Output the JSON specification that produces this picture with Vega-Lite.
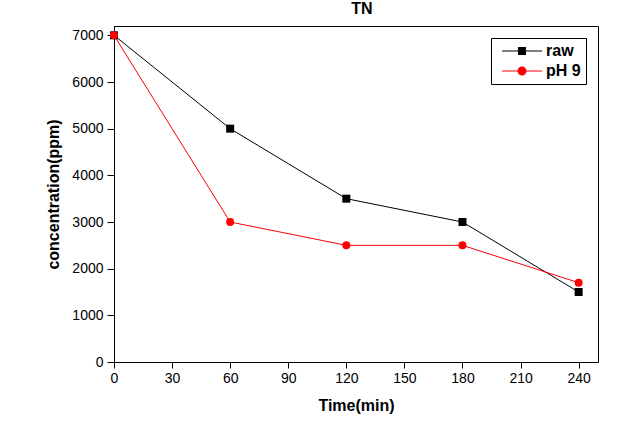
{
  "$schema": "https://vega.github.io/schema/vega-lite/v6.json",
  "width": 484,
  "height": 336,
  "autosize": {"type": "none"},
  "padding": {"left": 114, "top": 26, "right": 34, "bottom": 66},
  "background": "white",
  "title": {"text": "TN", "fontSize": 16, "fontWeight": "bold", "font": "Liberation Sans", "color": "black", "anchor": "middle", "offset": 9, "dx": 6},
  "config": {
    "view": {"stroke": "black", "strokeWidth": 1},
    "axis": {
      "grid": false,
      "domainColor": "black",
      "tickColor": "black",
      "labelColor": "black",
      "titleColor": "black",
      "labelFont": "Liberation Sans",
      "titleFont": "Liberation Sans",
      "labelFontSize": 14,
      "titleFontSize": 16,
      "titleFontWeight": "bold",
      "labelFlush": false,
      "labelOverlap": false
    },
    "legend": {
      "orient": "top-right",
      "offset": 12,
      "strokeColor": "black",
      "fillColor": "white",
      "padding": 5,
      "rowPadding": 4,
      "labelFont": "Liberation Sans",
      "labelFontSize": 16,
      "labelFontWeight": "bold",
      "labelColor": "black",
      "symbolSize": 100,
      "symbolOffset": 18,
      "labelOffset": 16,
      "symbolStrokeWidth": 0,
      "symbolOpacity": 1
    }
  },
  "data": {
    "values": [
      {"series": "raw", "time": 0, "value": 7000},
      {"series": "raw", "time": 60, "value": 5000},
      {"series": "raw", "time": 120, "value": 3500},
      {"series": "raw", "time": 180, "value": 3000},
      {"series": "raw", "time": 240, "value": 1500},
      {"series": "pH 9", "time": 0, "value": 7000},
      {"series": "pH 9", "time": 60, "value": 3000},
      {"series": "pH 9", "time": 120, "value": 2500},
      {"series": "pH 9", "time": 180, "value": 2500},
      {"series": "pH 9", "time": 240, "value": 1700}
    ]
  },
  "encoding": {
    "x": {
      "field": "time", "type": "quantitative",
      "scale": {"domain": [0, 250], "nice": false, "zero": false},
      "axis": {"title": "Time(min)", "values": [0, 30, 60, 90, 120, 150, 180, 210, 240], "tickSize": 6, "labelPadding": 3, "titlePadding": 12}
    },
    "y": {
      "field": "value", "type": "quantitative",
      "scale": {"domain": [0, 7200], "nice": false},
      "axis": {"title": "concentration(ppm)", "format": "d", "values": [0, 1000, 2000, 3000, 4000, 5000, 6000, 7000], "tickSize": 7, "labelPadding": 4, "titlePadding": 10}
    },
    "color": {
      "field": "series", "type": "nominal",
      "scale": {"domain": ["raw", "pH 9"], "range": ["black", "red"]},
      "legend": {"title": null}
    }
  },
  "layer": [
    {
      "mark": {"type": "line", "strokeWidth": 1, "clip": false},
      "encoding": {}
    },
    {
      "transform": [{"filter": "datum.series === 'raw'"}],
      "mark": {"type": "point", "shape": "square", "filled": true, "opacity": 1, "size": 64, "clip": false},
      "encoding": {}
    },
    {
      "transform": [{"filter": "datum.series === 'pH 9'"}],
      "mark": {"type": "point", "shape": "circle", "filled": true, "opacity": 1, "size": 64, "clip": false},
      "encoding": {}
    },
    {
      "transform": [{"filter": "datum.time < 0"}],
      "mark": {"type": "point", "filled": true, "opacity": 1, "size": 100},
      "encoding": {
        "shape": {
          "field": "series", "type": "nominal",
          "scale": {"domain": ["raw", "pH 9"], "range": ["M-4,-0.1H4V0.1H-4ZM-0.8,-0.8H0.8V0.8H-0.8Z", "M-4,-0.1H4V0.1H-4ZM0.9,0A0.9,0.9 0 1,1 -0.9,0A0.9,0.9 0 1,1 0.9,0Z"]},
          "legend": {"title": null}
        }
      }
    }
  ]
}
